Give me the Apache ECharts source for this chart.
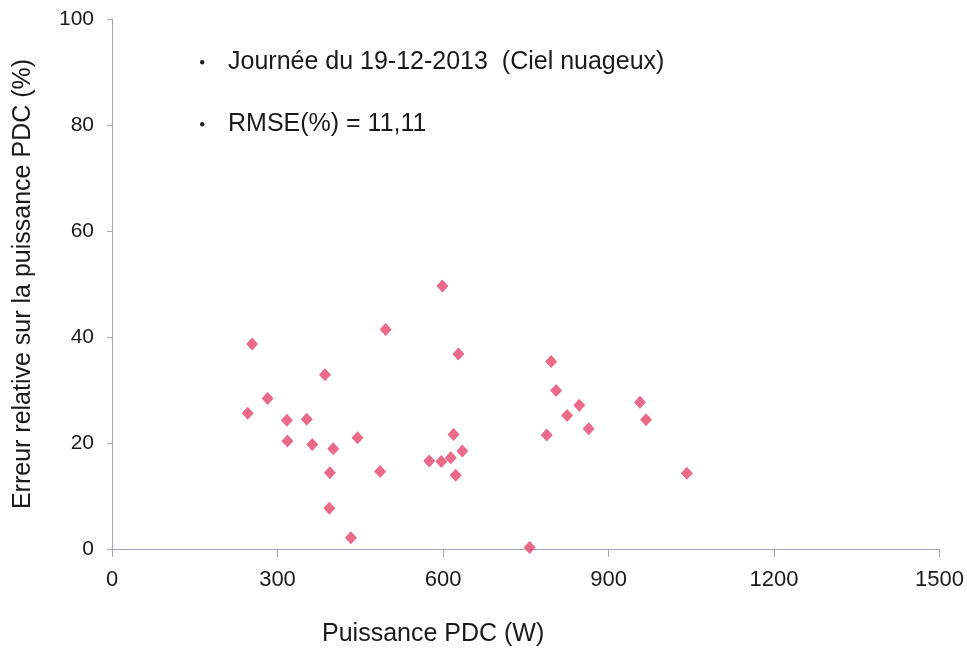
<!DOCTYPE html>
<html>
<head>
<meta charset="utf-8">
<title>Erreur relative PDC</title>
<script src="https://cdn.jsdelivr.net/npm/echarts@6/dist/echarts.min.js"></script>
<style>
  html, body { margin: 0; padding: 0; background: #fff; }
  #chart { width: 967px; height: 654px; }
</style>
</head>
<body>
<div id="chart"></div>
<script>
// Puissance PDC (W) and relative error (%) for 19-12-2013
const puissance = [246, 254, 282, 317, 318, 353, 363, 386, 401, 395, 394, 433, 445,
                   496, 486, 575, 599, 597, 614, 619, 623, 628, 635,
                   757, 788, 796, 805, 825, 847, 864, 957, 968, 1042];
const erreur = [25.6, 38.7, 28.4, 24.3, 20.4, 24.5, 19.7, 32.9, 18.9, 14.4, 7.7, 2.1, 21.0,
                41.4, 14.6, 16.6, 49.6, 16.5, 17.2, 21.6, 13.9, 36.8, 18.5,
                0.3, 21.5, 35.4, 29.9, 25.2, 27.1, 22.7, 27.7, 24.4, 14.3];
const xTicks = [0, 300, 600, 900, 1200, 1500];
const yTicks = [0, 20, 40, 60, 80, 100];
const notes = ['Journée du 19-12-2013  (Ciel nuageux)', 'RMSE(%) = 11,11'];
const xTitle = 'Puissance PDC (W)';
const yTitle = 'Erreur relative sur la puissance PDC (%)';

const points = puissance.map((p, i) => [p, erreur[i]]);

const chart = echarts.init(document.getElementById('chart'), null, { renderer: 'canvas' });

const axisColor = '#a4a6b8';
const textFont = "'Liberation Sans', Arial, sans-serif";
const narrowFont = "'Liberation Sans Narrow', 'Liberation Sans', Arial, sans-serif";

chart.setOption({
  backgroundColor: '#ffffff',
  animation: false,
  grid: { left: 112, right: 26, top: 19, bottom: 105 },
  xAxis: {
    type: 'value',
    min: xTicks[0],
    max: xTicks[xTicks.length - 1],
    interval: xTicks[1] - xTicks[0],
    axisLine: { lineStyle: { color: axisColor, width: 1 } },
    axisTick: { show: true, length: 8, lineStyle: { color: axisColor } },
    axisLabel: {
      margin: 20, fontFamily: narrowFont, fontSize: 22, color: '#1a1a1a',
      formatter: v => String(v)
    },
    splitLine: { show: false }
  },
  yAxis: {
    type: 'value',
    min: yTicks[0],
    max: yTicks[yTicks.length - 1],
    interval: yTicks[1] - yTicks[0],
    name: yTitle,
    nameLocation: 'middle',
    nameGap: 76,
    nameTextStyle: { fontFamily: textFont, fontSize: 25, color: '#1a1a1a' },
    axisLine: { show: true, lineStyle: { color: axisColor, width: 1 } },
    axisTick: { show: true, length: 5, lineStyle: { color: axisColor } },
    axisLabel: {
      margin: 18, fontFamily: textFont, fontSize: 21, color: '#1a1a1a',
      formatter: v => String(v)
    },
    splitLine: { show: false }
  },
  graphic: [
    { type: 'circle', left: 200, top: 60, shape: { r: 2.2 }, style: { fill: '#222' } },
    { type: 'text', left: 228, top: 50,
      style: { text: notes[0], fontFamily: textFont, fontSize: 25, fill: '#1a1a1a' } },
    { type: 'circle', left: 200, top: 122, shape: { r: 2.2 }, style: { fill: '#222' } },
    { type: 'text', left: 228, top: 112,
      style: { text: notes[1], fontFamily: textFont, fontSize: 25, fill: '#1a1a1a' } },
    { type: 'text', left: 322, top: 622,
      style: { text: xTitle, fontFamily: narrowFont, fontSize: 25, fill: '#1a1a1a' } }
  ],
  series: [{
    type: 'scatter',
    data: points,
    symbol: 'diamond',
    symbolSize: [12, 13],
    itemStyle: { color: '#e6446b' }
  }]
});
</script>
</body>
</html>
